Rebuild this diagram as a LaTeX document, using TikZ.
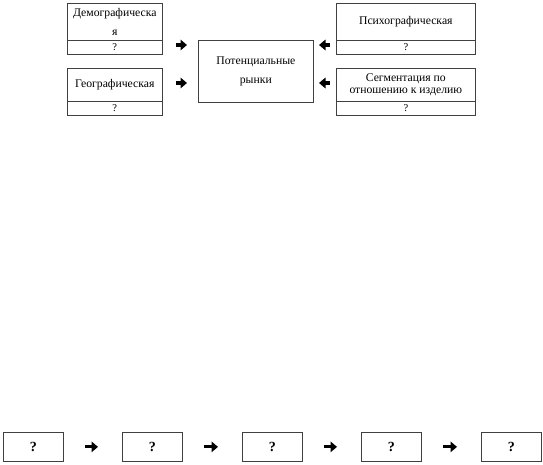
\documentclass[tikz,border=0pt]{standalone}
\usepackage{fontspec}
\setmainfont{Liberation Serif}
\usetikzlibrary{arrows.meta}
\begin{document}
\begin{tikzpicture}[x=1pt,y=-1pt,
  lbl/.style={draw=black!75,line width=0.65pt,inner sep=0pt,anchor=north west,align=center,
    font=\fontsize{11.7}{18.5}\selectfont},
  qbox/.style={draw=black!75,line width=0.65pt,inner sep=0pt,anchor=north west,
    font=\fontsize{10.5}{12}\selectfont},
  bigq/.style={draw=black!75,line width=0.75pt,inner sep=0pt,anchor=north west,
    minimum width=60pt,minimum height=29pt,font=\fontsize{14}{15}\selectfont\bfseries},
  fat/.style={line width=3.2pt,-{Triangle[length=6.5pt,width=10.5pt]}}]
\useasboundingbox (0,0) rectangle (543,464);
% left top
\node[lbl,minimum width=95pt,minimum height=37pt] (dem) at (67,3) {Демографическа\\я};
\node[qbox,minimum width=95pt,minimum height=14pt] (demq) at (67,40) {?};
\node[lbl,minimum width=95pt,minimum height=33pt] (geo) at (67,68) {Географическая};
\node[qbox,minimum width=95pt,minimum height=14pt] (geoq) at (67,101) {?};
% center
\node[lbl,minimum width=115pt,minimum height=62pt] (pot) at (198,40) {Потенциальные\\рынки};
% right
\node[lbl,minimum width=139pt,minimum height=37pt] (psy) at (336,3) {Психографическая};
\node[qbox,minimum width=139pt,minimum height=14pt] (psyq) at (336,40) {?};
\node[lbl,minimum width=139pt,minimum height=33pt,font=\fontsize{11.7}{12.5}\selectfont] (seg) at (336,68) {Сегментация по\\отношению к изделию};
\node[qbox,minimum width=139pt,minimum height=14pt] (segq) at (336,101) {?};
% arrows top
\coordinate (a1s) at (176,45); \coordinate (a1e) at (187,45);
\coordinate (a2s) at (176,83); \coordinate (a2e) at (187,83);
\coordinate (a3s) at (330,45); \coordinate (a3e) at (319,45);
\coordinate (a4s) at (330,83); \coordinate (a4e) at (319,83);
\draw[fat] (a1s) -- (a1e);
\draw[fat] (a2s) -- (a2e);
\draw[fat] (a3s) -- (a3e);
\draw[fat] (a4s) -- (a4e);
% bottom row
\node[bigq] (b1) at (3,432) {?};
\node[bigq] (b2) at (122,432) {?};
\node[bigq] (b3) at (242,432) {?};
\node[bigq] (b4) at (361,432) {?};
\node[bigq] (b5) at (481,432) {?};
\draw[fat,shorten <=21pt,shorten >=24pt] (b1.east) -- (b2.west);
\draw[fat,shorten <=21pt,shorten >=24pt] (b2.east) -- (b3.west);
\draw[fat,shorten <=21pt,shorten >=24pt] (b3.east) -- (b4.west);
\draw[fat,shorten <=21pt,shorten >=24pt] (b4.east) -- (b5.west);
\end{tikzpicture}
\end{document}
